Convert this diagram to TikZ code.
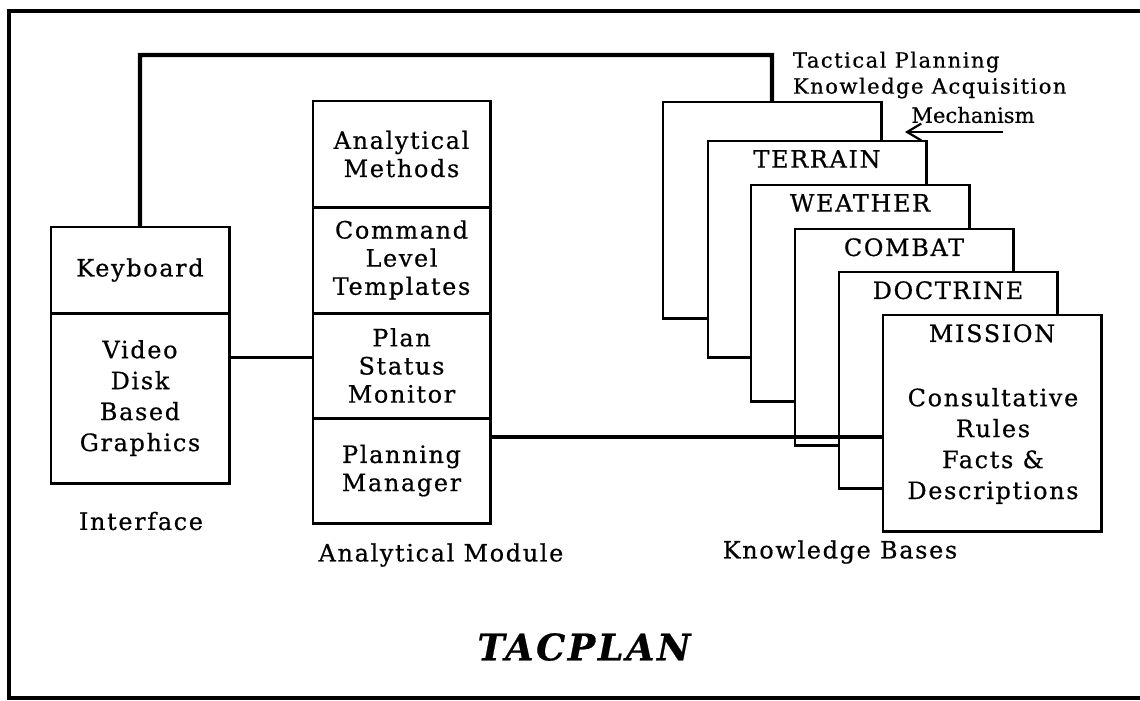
\documentclass[tikz,border=0pt]{standalone}
\usepackage{fontspec}
\setmainfont{DejaVu Serif}[LetterSpace=7,FakeBold=0.6]
\newfontfamily\mechfont{DejaVu Serif}[FakeBold=0.4]
\usetikzlibrary{positioning,arrows.meta}

\begin{document}
\begin{tikzpicture}[x=0.025cm,y=-0.025cm,
  box/.style={draw,line width=2.1pt,outer sep=0pt,inner sep=0pt,align=center,
    font=\fontsize{17}{20}\selectfont},
  kbase/.style={box,fill=white,anchor=north west,minimum width=5.45cm,minimum height=5.4cm},
  kblabel/.style={anchor=north,yshift=-3pt,font=\fontsize{17}{20}\selectfont},
  caption/.style={font=\fontsize{17}{20}\selectfont},
  wire/.style={line width=2.9pt},
  link/.style={line width=2.1pt},
  bus/.style={line width=3.3pt}]
  \useasboundingbox (0,0) rectangle (1140,700);

  % cadrul
  \draw[wire] (1140,11) -- (9,11) -- (9,698) -- (1140,698);

  % interfața
  \node[box,anchor=north west,minimum width=4.45cm,minimum height=2.15cm] (keyb) at (51,227) {Keyboard};
  \node[box,below=0pt of keyb,minimum width=4.45cm,minimum height=4.25cm,
        font=\fontsize{17}{22}\selectfont] (video) {Video\\Disk\\Based\\Graphics};
  \node[caption] (iface) at (141,521) {Interface};

  % modulul analitic
  \node[box,anchor=north west,minimum width=4.425cm,minimum height=2.65cm] (meth) at (313,101) {Analytical\\Methods};
  \node[box,below=0pt of meth,minimum width=4.425cm,minimum height=2.65cm] (tmpl) {Command\\Level\\Templates};
  \node[box,below=0pt of tmpl,minimum width=4.425cm,minimum height=2.625cm] (mon) {Plan\\Status\\Monitor};
  \node[box,below=0pt of mon,minimum width=4.425cm,minimum height=2.625cm] (mgr) {Planning\\Manager};
  \node[caption] (amod) at (441,555) {Analytical Module};

  % bazele de cunoștințe
  \node[kbase] (acq) at (663,102) {};
  \node[kbase,label={[kblabel]north:TERRAIN}] (terrain) at (708,141) {};
  \node[kbase,label={[kblabel]north:WEATHER}] (weather) at (751,185) {};
  \node[kbase,label={[kblabel]north:COMBAT}] (combat) at (795,229) {};
  \node[kbase,label={[kblabel]north:DOCTRINE}] (doctrine) at (839,272) {};
  \node[kbase,label={[kblabel]north:MISSION}] (mission) at (883,315) {};
  \node[align=center,font=\fontsize{17}{22}\selectfont] (rules) at (993,446) {Consultative\\Rules\\Facts \&\\Descriptions};
  \node[caption] (kbases) at (840,552) {Knowledge Bases};

  % mecanismul de achiziție
  \node[anchor=west,align=left,font=\fontsize{15}{18.5}\selectfont] (kam) at (788,75) {Tactical Planning\\Knowledge Acquisition};
  \node[font=\mechfont\fontsize{15}{18}\selectfont] (mech) at (973,115) {Mechanism};
  \coordinate (mtail) at (1003,132);
  \coordinate (mtip) at (905,132);
  \draw[-{Straight Barb[length=10pt,width=12pt]},line width=1.6pt] (mtail) -- (mtip);

  % legături
  \coordinate (fbtop) at (140,55);
  \draw[wire] (keyb.north) -- (fbtop) -- (fbtop -| acq.north) -- (acq.north);
  \coordinate (vlink) at ([yshift=5.7pt]mon.west);
  \draw[link] (vlink) -- (vlink -| video.east);
  \coordinate (blink) at ([yshift=24pt]mgr.east);
  \draw[bus] (blink) -- (blink -| mission.west);

  % titlu
  \node[font=\fontsize{26}{30}\selectfont\bfseries\itshape] (title) at (584,647) {TACPLAN};
\end{tikzpicture}
\end{document}
